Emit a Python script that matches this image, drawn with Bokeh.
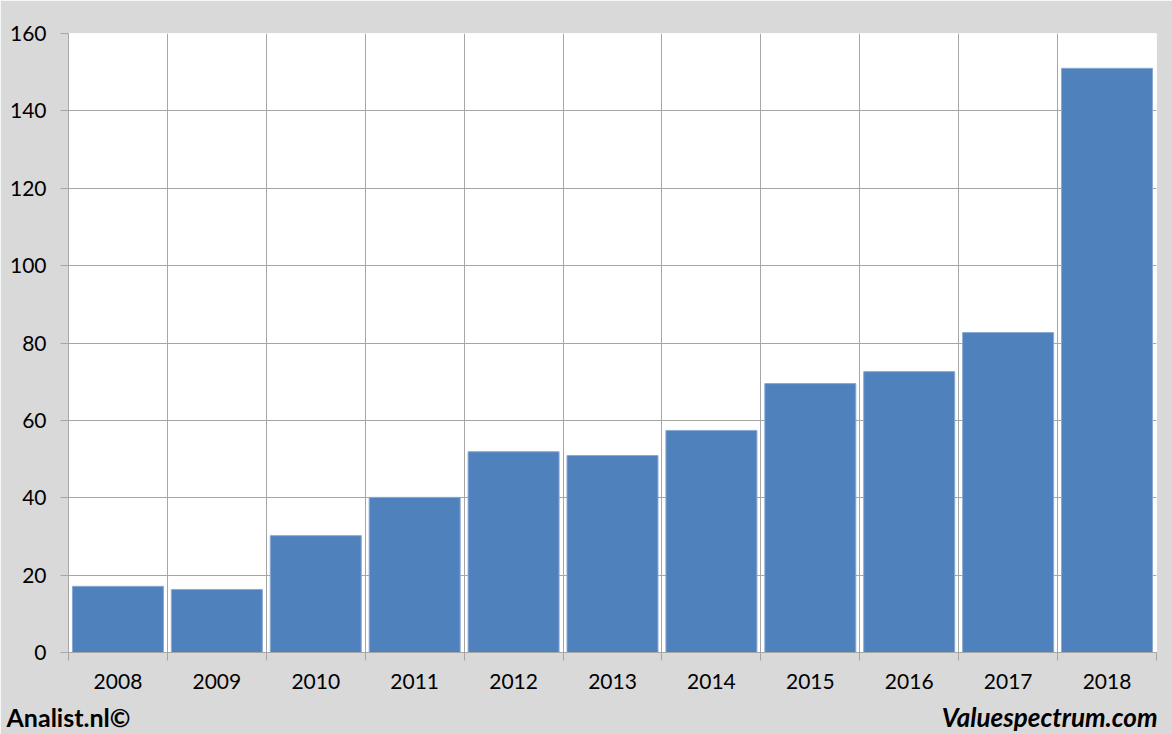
from bokeh.plotting import figure
from bokeh.models import FixedTicker, BoxAnnotation, Label, Range1d
from bokeh.embed import file_html
from bokeh.resources import INLINE

years = ["2008", "2009", "2010", "2011", "2012", "2013", "2014", "2015", "2016", "2017", "2018"]
values = [17.1, 16.3, 30.2, 40.1, 51.9, 50.9, 57.4, 69.5, 72.6, 82.7, 151.0]
y_ticks = [0, 20, 40, 60, 80, 100, 120, 140, 160]

FONT = "Lato"
GRID = "#a6a6a6"
W, H = 1172, 734

xs = list(range(len(years)))
bounds = [i - 0.5 for i in range(len(years) + 1)]

p = figure(width=W, height=H, output_backend="svg", toolbar_location=None,
           x_range=Range1d(-0.5, len(years) - 0.5), y_range=Range1d(0, 160),
           min_border_left=68, min_border_right=16, min_border_top=33, min_border_bottom=82)
p.border_fill_color = "#d9d9d9"
p.background_fill_color = "white"
p.outline_line_color = None

panel = BoxAnnotation(left=7, right=1162, top=7, bottom=703,
                      left_units="canvas", right_units="canvas",
                      top_units="canvas", bottom_units="canvas",
                      fill_color="white", fill_alpha=1.0,
                      line_color="#bfbfbf", line_width=1, level="image")
p.add_layout(panel)

p.vbar(x=xs, top=values, width=0.92, bottom=0,
       fill_color="#4f81bd", line_color="#8aa8d4", line_width=1)

p.xgrid.ticker = FixedTicker(ticks=bounds)
p.ygrid.ticker = FixedTicker(ticks=y_ticks)
for g in (p.xgrid, p.ygrid):
    g.grid_line_color = GRID
    g.grid_line_width = 1

xa = p.xaxis[0]
xa.ticker = FixedTicker(ticks=xs, minor_ticks=bounds)
xa.major_label_overrides = {i: y for i, y in enumerate(years)}
xa.major_tick_in = 0
xa.major_tick_out = 0
xa.minor_tick_in = 0
xa.minor_tick_out = 8
xa.minor_tick_line_color = GRID
xa.axis_line_color = GRID
xa.major_label_text_font = FONT
xa.major_label_text_font_size = "21px"
xa.major_label_text_color = "black"
xa.major_label_standoff = 13

ya = p.yaxis[0]
ya.ticker = FixedTicker(ticks=y_ticks, minor_ticks=[])
ya.major_tick_in = 0
ya.major_tick_out = 8
ya.major_tick_line_color = GRID
ya.axis_line_color = GRID
ya.major_label_text_font = FONT
ya.major_label_text_font_size = "21px"
ya.major_label_text_color = "black"
ya.major_label_standoff = 14

# footer texts: labels held in side panels (so they are not clipped to the frame),
# x in pixels from the frame's left edge, y on the value scale below zero
FOOT_Y = -16.7
left_lbl = Label(x=-62, y=FOOT_Y, x_units="screen", y_units="data", text="Analist.nl©",
                 text_font=FONT, text_font_style="bold", text_font_size="25px",
                 text_color="black", text_baseline="alphabetic", text_align="left")
p.add_layout(left_lbl, "above")

right_lbl = Label(x=1089, y=FOOT_Y, x_units="screen", y_units="data", text="Valuespectrum.com",
                  text_font=FONT, text_font_style="bold italic", text_font_size="26px",
                  text_color="black", text_baseline="alphabetic", text_align="right")
p.add_layout(right_lbl, "below")

open("out.html", "w").write(file_html(p, INLINE))
